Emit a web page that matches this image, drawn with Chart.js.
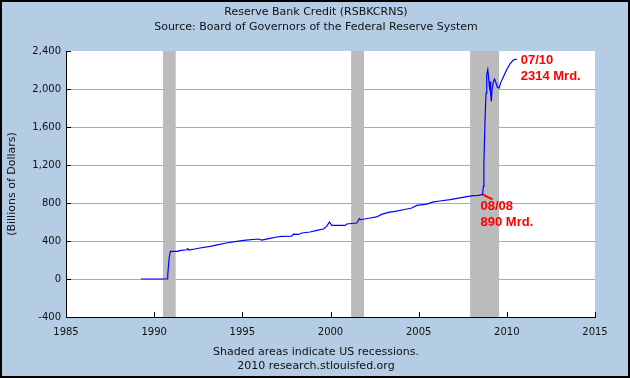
<!DOCTYPE html>
<html>
<head>
<meta charset="utf-8">
<script src="https://cdn.jsdelivr.net/npm/chart.js@4/dist/chart.umd.min.js"></script>
<style>
html, body { margin: 0; padding: 0; background: #b4cde4; }
#wrap { width: 630px; height: 378px; }
</style>
</head>
<body>
<div id="wrap"><canvas id="creditChart"></canvas></div>
<script>
// decimal years and weekly reserve bank credit, billions of dollars
const years = [
    1989.25, 1990.73, 1990.77, 1990.85, 1990.92, 1991.37, 1991.42, 1991.85, 1991.9, 1991.97,
    1992.3, 1992.6, 1993.17, 1993.64, 1994.1, 1994.68, 1995.21, 1995.91, 1996.1, 1996.57,
    1996.95, 1997.23, 1997.8, 1997.9, 1998.18, 1998.37, 1998.84, 1999.22, 1999.6, 1999.78,
    1999.94, 2000.07, 2000.83, 2000.92, 2001.5, 2001.6, 2001.64, 2001.7, 2002.24, 2002.62,
    2002.9, 2003.28, 2003.66, 2004.13, 2004.61, 2004.89, 2005.46, 2005.83, 2006.21, 2006.78,
    2007.35, 2007.82, 2008.1, 2008.39, 2008.62, 2008.67, 2008.7, 2008.77, 2008.82, 2008.86,
    2008.92, 2008.96, 2009.01, 2009.05, 2009.08, 2009.12, 2009.16, 2009.24, 2009.3, 2009.39,
    2009.46, 2009.56, 2009.66, 2009.8, 2009.99, 2010.18, 2010.37, 2010.56
];
const credit = [
    0, 0, 45, 221, 290, 290, 298, 308, 319, 305,
    316, 326, 343, 361, 379, 396, 410, 421, 410, 427,
    442, 448, 450, 473, 469, 484, 495, 512, 526, 554,
    600, 564, 564, 579, 589, 624, 635, 624, 642, 653,
    680, 701, 712, 729, 747, 775, 789, 811, 821, 835,
    853, 869, 877, 880, 890, 975, 1221, 1711, 1957, 2150,
    2203, 2133, 2027, 2080, 1957, 1869, 1993, 2080, 2105, 2063,
    2021, 2010, 2070, 2126, 2203, 2266, 2305, 2314
];

const recessionStart = [1990.5, 2001.17, 2007.92];
const recessionEnd = [1991.22, 2001.9, 2009.56];

const noteYears = [2010.56, 2008.62];
const noteValues = [2314, 890];
const noteText = [["07/10", "2314 Mrd."], ["08/08", "890 Mrd."]];

const titleLines = ["Reserve Bank Credit (RSBKCRNS)", "Source: Board of Governors of the Federal Reserve System"];
const footerLines = ["Shaded areas indicate US recessions.", "2010 research.stlouisfed.org"];

const textFont = "11px 'DejaVu Sans'";

const fredFrame = {
    id: "fredFrame",
    beforeDraw(chart) {
        const c = chart.ctx;
        const a = chart.chartArea;
        c.save();
        c.fillStyle = "#b4cde4";
        c.fillRect(0, 0, chart.width, chart.height);
        c.fillStyle = "#ffffff";
        c.fillRect(a.left, a.top, a.right - a.left, a.bottom - a.top);
        c.strokeStyle = "#000";
        c.lineWidth = 2;
        c.strokeRect(1, 1, chart.width - 2, chart.height - 2);
        c.fillStyle = "#111";
        c.font = textFont;
        c.textAlign = "center";
        c.fillText(titleLines[0], 316, 15);
        c.fillText(titleLines[1], 316, 30);
        c.fillText(footerLines[0], 316, 355);
        c.fillText(footerLines[1], 316, 369);
        c.restore();
    },
    beforeDatasetsDraw(chart) {
        const c = chart.ctx;
        const a = chart.chartArea;
        const x = chart.scales.x;
        c.save();
        c.fillStyle = "#bbbbbb";
        recessionStart.forEach((s, i) => {
            const x0 = x.getPixelForValue(s);
            const x1 = x.getPixelForValue(recessionEnd[i]);
            c.fillRect(x0, a.top, x1 - x0, a.bottom - a.top);
        });
        c.restore();
    },
    afterDatasetsDraw(chart) {
        const c = chart.ctx;
        const a = chart.chartArea;
        const x = chart.scales.x;
        const y = chart.scales.y;
        c.save();
        // inward tick marks
        c.strokeStyle = "#000";
        c.lineWidth = 1;
        c.beginPath();
        y.ticks.forEach(t => {
            const py = Math.round(y.getPixelForValue(t.value)) + 0.5;
            c.moveTo(a.left, py);
            c.lineTo(a.left + 5, py);
        });
        x.ticks.forEach(t => {
            const px = Math.round(x.getPixelForValue(t.value)) + 0.5;
            c.moveTo(px, a.bottom);
            c.lineTo(px, a.bottom - 5);
        });
        c.stroke();

        // red notes
        c.fillStyle = "#ff0000";
        c.strokeStyle = "#ff0000";
        c.font = "bold 13px 'Liberation Sans'";
        c.textAlign = "left";
        const p0x = x.getPixelForValue(noteYears[0]);
        const p0y = y.getPixelForValue(noteValues[0]);
        c.fillText(noteText[0][0], p0x + 4, p0y + 5);
        c.fillText(noteText[0][1], p0x + 4, p0y + 21);
        const p1x = x.getPixelForValue(noteYears[1]);
        const p1y = y.getPixelForValue(noteValues[1]);
        c.lineWidth = 2;
        c.beginPath();
        c.moveTo(p1x, p1y);
        c.lineTo(p1x + 10, p1y + 5);
        c.stroke();
        c.fillText(noteText[1][0], p1x - 2, p1y + 16);
        c.fillText(noteText[1][1], p1x - 2, p1y + 32);
        c.restore();
    }
};

const creditCtx = document.getElementById("creditChart");

new Chart(creditCtx, {
    type: "line",
    data: {
        datasets: [
            {
                label: "Reserve Bank Credit",
                data: years.map((yr, i) => ({ x: yr, y: credit[i] })),
                borderColor: "#0000ff",
                borderWidth: 1.2,
                pointRadius: 0,
                tension: 0,
                fill: false
            }
        ]
    },
    options: {
        responsive: true,
        maintainAspectRatio: false,
        animation: false,
        devicePixelRatio: 1,
        layout: {
            padding: { top: 51, right: 35, left: 0, bottom: 0 }
        },
        plugins: {
            legend: { display: false },
            tooltip: { enabled: false }
        },
        scales: {
            x: {
                type: "linear",
                min: 1985,
                max: 2015,
                afterFit: s => { s.height = 61; },
                grid: { display: false },
                border: { display: true, color: "#000", width: 1 },
                ticks: {
                    stepSize: 5,
                    maxRotation: 0,
                    padding: 1,
                    color: "#111",
                    font: { family: "DejaVu Sans", size: 10 },
                    callback: v => String(v)
                }
            },
            y: {
                min: -400,
                max: 2400,
                afterFit: s => { s.width = 66; },
                grid: {
                    drawTicks: false,
                    color: c => (c.tick && c.tick.value === 2400 ? "rgba(0,0,0,0)" : "#aaaaaa")
                },
                border: { display: true, color: "#000", width: 1 },
                ticks: {
                    stepSize: 400,
                    padding: 5,
                    color: "#111",
                    font: { family: "DejaVu Sans", size: 10 }
                },
                title: {
                    display: true,
                    text: "(Billions of Dollars)",
                    color: "#111",
                    font: { family: "DejaVu Sans", size: 11 },
                    padding: { top: 6, bottom: 0 }
                }
            }
        }
    },
    plugins: [fredFrame]
});
</script>
</body>
</html>
